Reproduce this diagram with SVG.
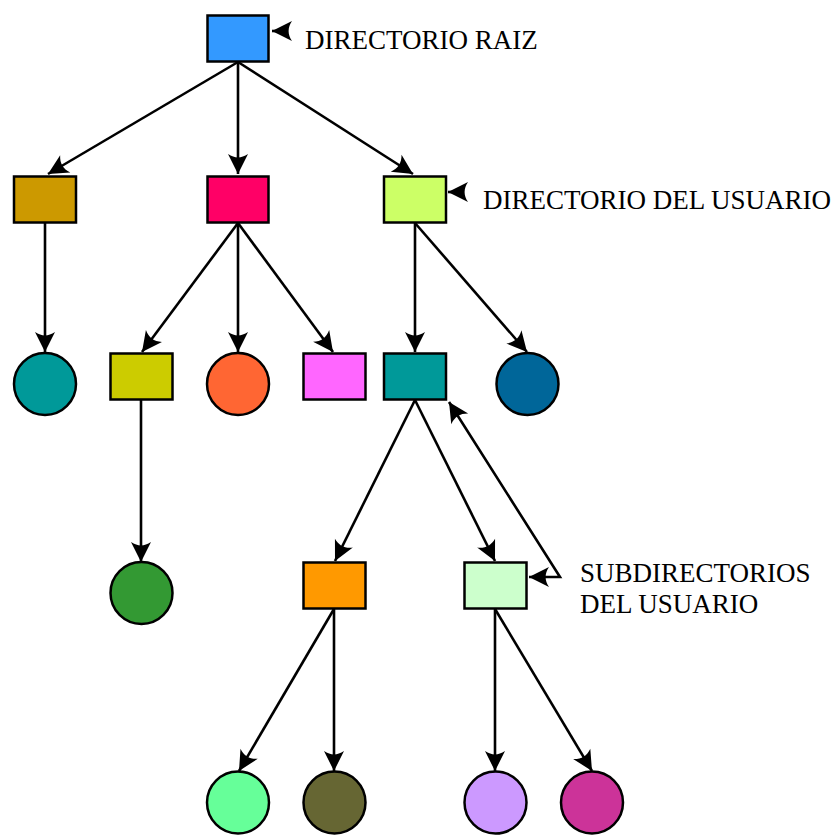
<svg xmlns="http://www.w3.org/2000/svg" width="840" height="835" viewBox="0 0 840 835">
<style>
.n{stroke:#000;stroke-width:2.5}
.c{fill:none;stroke:#000;stroke-width:2.6}
.t{font-family:"Liberation Serif","Times New Roman",serif;font-size:27px;fill:#000}
</style>
<defs>
<marker id="ah" viewBox="-22 -11 24 22" markerWidth="24" markerHeight="22" refX="0" refY="0" markerUnits="userSpaceOnUse" orient="auto-start-reverse">
<path d="M0,0 L-20,-10 C-15.5,-3 -15.5,3 -20,10 Z" fill="#000"/>
</marker>
</defs>
<rect width="840" height="835" fill="#fff"/>
<g id="connectors">
<path class="c" d="M238,62 L48,174" marker-end="url(#ah)"/>
<path class="c" d="M238,62 L238,174" marker-end="url(#ah)"/>
<path class="c" d="M238,62 L413,174" marker-end="url(#ah)"/>
<path class="c" d="M45,223 L45,352" marker-end="url(#ah)"/>
<path class="c" d="M238,223 L142,352" marker-end="url(#ah)"/>
<path class="c" d="M238,223 L238,352" marker-end="url(#ah)"/>
<path class="c" d="M238,223 L333,352" marker-end="url(#ah)"/>
<path class="c" d="M415,223 L415,352" marker-end="url(#ah)"/>
<path class="c" d="M415,223 L527,352" marker-end="url(#ah)"/>
<path class="c" d="M141,400 L141,562" marker-end="url(#ah)"/>
<path class="c" d="M415,400 L335,561" marker-end="url(#ah)"/>
<path class="c" d="M415,400 L495,561" marker-end="url(#ah)"/>
<path class="c" d="M334,609 L239,771" marker-end="url(#ah)"/>
<path class="c" d="M334,609 L334,771" marker-end="url(#ah)"/>
<path class="c" d="M495,609 L495,771" marker-end="url(#ah)"/>
<path class="c" d="M495,609 L592,771" marker-end="url(#ah)"/>
<path class="c" d="M449,402 L560,577 L529,577" marker-start="url(#ah)" marker-end="url(#ah)"/>
<path class="c" d="M288,31 L272,31" marker-end="url(#ah)"/>
<path class="c" d="M464,192 L448,192" marker-end="url(#ah)"/>
</g>
<g id="root"><rect class="n" x="207.5" y="15.5" width="61" height="46" fill="#3399FF"/></g>
<g id="n2a"><rect class="n" x="14" y="176.5" width="62" height="46" fill="#CC9900"/></g>
<g id="n2b"><rect class="n" x="207.5" y="176.5" width="61" height="46" fill="#FF0066"/></g>
<g id="n2c"><rect class="n" x="384" y="176.5" width="62" height="46" fill="#CCFF66"/></g>
<g id="n3a"><circle class="n" cx="45" cy="384" r="31" fill="#009999"/></g>
<g id="n3b"><rect class="n" x="110.5" y="353.5" width="62" height="46" fill="#CCCC00"/></g>
<g id="n3c"><circle class="n" cx="238" cy="384" r="31" fill="#FF6633"/></g>
<g id="n3d"><rect class="n" x="303.5" y="353.5" width="62" height="46" fill="#FF66FF"/></g>
<g id="n3e"><rect class="n" x="384" y="353.5" width="62" height="46" fill="#009999"/></g>
<g id="n3f"><circle class="n" cx="527.5" cy="384" r="31" fill="#006699"/></g>
<g id="n4a"><circle class="n" cx="141.5" cy="593" r="31" fill="#339933"/></g>
<g id="n4b"><rect class="n" x="303.5" y="562.5" width="62" height="46" fill="#FF9900"/></g>
<g id="n4c"><rect class="n" x="464.5" y="562.5" width="62" height="46" fill="#CCFFCC"/></g>
<g id="n5a"><circle class="n" cx="238" cy="802.5" r="31" fill="#66FF99"/></g>
<g id="n5b"><circle class="n" cx="334.5" cy="802.5" r="31" fill="#666633"/></g>
<g id="n5c"><circle class="n" cx="495.5" cy="802.5" r="31" fill="#CC99FF"/></g>
<g id="n5d"><circle class="n" cx="592" cy="802.5" r="31" fill="#CC3399"/></g>
<g id="labels">
<text class="t" x="305" y="49">DIRECTORIO RAIZ</text>
<text class="t" x="483" y="209">DIRECTORIO DEL USUARIO</text>
<text class="t" x="580" y="582">SUBDIRECTORIOS</text>
<text class="t" x="580" y="613">DEL USUARIO</text>
</g>
</svg>
